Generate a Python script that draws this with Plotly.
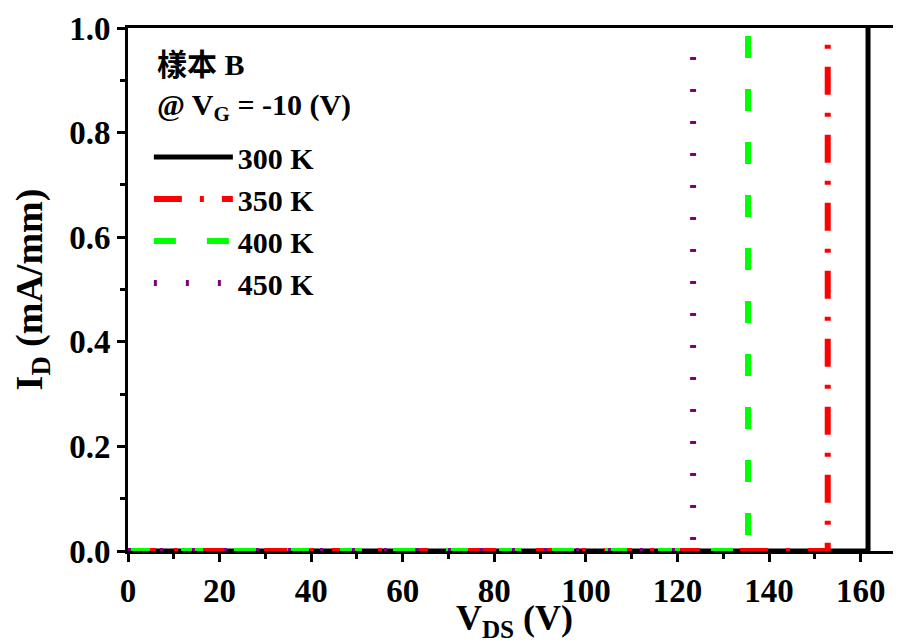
import plotly.graph_objects as go

# Data (breakdown curves: flat at 0, then vertical rise)
series_names = ["300 K", "350 K", "400 K", "450 K"]
vds_300 = [0, 161.6, 161.6]
id_300 = [0, 0, 1.0]
vds_350 = [0, 152.8, 152.8]
id_350 = [0, 0, 1.0]
vds_400 = [0, 135.4, 135.4]
id_400 = [0, 0, 1.0]
vds_450 = [0, 123.4, 123.4]
id_450 = [0, 0, 1.0]
legend_title_lines = ["樣本 B", "@ V<sub>G</sub> = -10 (V)"]

xs = [vds_300, vds_350, vds_400, vds_450]
ys = [id_300, id_350, id_400, id_450]
colors = ["black", "#ff0000", "#00ff00", "#800080"]
dashes = ["solid", "28px,18px,4px,18px", "22px,31px", "3px,29px"]
widths = [5, 6, 6, 6]

FONT = "Liberation Serif, Times New Roman, Noto Sans CJK TC, serif"

fig = go.Figure()
for n, x, y, c, d, w in zip(series_names, xs, ys, colors, dashes, widths):
    fig.add_trace(go.Scatter(x=x, y=y, mode="lines", name=n,
                             line=dict(color=c, dash=d, width=w),
                             cliponaxis=False))

# page body has an 8px margin, so the figure is sized/offset to compensate
fig.update_layout(
    width=893, height=635,
    margin=dict(l=120, r=0, t=20, b=92, autoexpand=False),
    paper_bgcolor="white", plot_bgcolor="white",
    font=dict(family=FONT, color="black", size=30, weight="bold"),
    showlegend=True,
    legend=dict(
        x=0.027, y=0.803, xanchor="left", yanchor="top",
        bgcolor="rgba(0,0,0,0)",
        font=dict(family=FONT, size=30, weight="bold"),
        itemwidth=79, tracegroupgap=0,
    ),
)
for txt, yy in zip(legend_title_lines, [0.931, 0.849]):
    fig.add_annotation(text=txt, xref="paper", yref="paper", x=0.035, y=yy,
                       xanchor="left", yanchor="middle", showarrow=False,
                       font=dict(family=FONT, size=30, weight="bold", color="black"))

fig.update_xaxes(
    range=[0, 168.8], tick0=0, dtick=20, automargin=False,
    showgrid=False, zeroline=False,
    showline=True, linewidth=3, linecolor="black", mirror=True,
    ticks="outside", ticklen=8, tickwidth=3, tickcolor="black",
    minor=dict(dtick=10, ticks="outside", ticklen=5, tickwidth=3, tickcolor="black"),
    tickfont=dict(family=FONT, size=33, weight="bold"),
    title=dict(text="V<sub>DS</sub> (V)", standoff=3,
               font=dict(family=FONT, size=36, weight="bold")),
    layer="below traces",
)
fig.update_yaxes(
    range=[0, 1.0], tick0=0, dtick=0.2, tickformat=".1f", automargin=False,
    showgrid=False, zeroline=False,
    showline=True, linewidth=3, linecolor="black", mirror=False,
    ticks="outside", ticklen=8, tickwidth=3, tickcolor="black",
    minor=dict(dtick=0.1, ticks="outside", ticklen=5, tickwidth=3, tickcolor="black"),
    tickfont=dict(family=FONT, size=33, weight="bold"),
    title=dict(text="I<sub>D</sub> (mA/mm)", standoff=18,
               font=dict(family=FONT, size=38, weight="bold")),
    layer="below traces",
)

fig.write_html("out.html")
